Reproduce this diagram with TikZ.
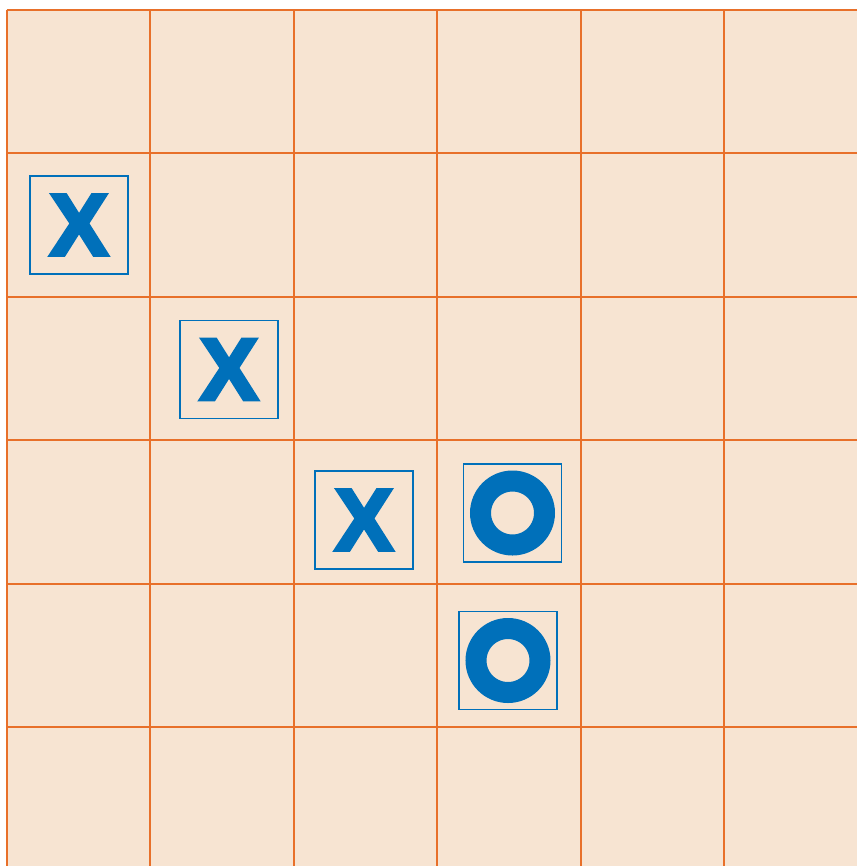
\documentclass[tikz,border=0pt]{standalone}
\usepackage{fontspec}
\newfontfamily\fichaFont[FakeBold=4]{Liberation Sans Bold}
\usetikzlibrary{positioning}
\definecolor{fondoTablero}{HTML}{F7E4D2}
\definecolor{lineaTablero}{HTML}{E8702A}
\definecolor{azulFicha}{HTML}{0070BA}

\begin{document}
\begin{tikzpicture}[x=0.02cm, y=-0.02cm,
        casilla/.style={draw=lineaTablero, line width=1pt},
        ficha/.style={draw=azulFicha, line width=0.6pt, minimum size=1.96cm, inner sep=0pt,
            text=azulFicha, font=\fichaFont\fontsize{50}{50}\selectfont},
        anillo/.style={draw=azulFicha, line width=0.42cm}]
        \useasboundingbox (0,0) rectangle (857,866);
        \fill[fondoTablero] (6.7,9.7) rectangle (857,866);
        \foreach \i in {0,...,5} {
            \draw[casilla] ({6.7+143.5*\i},9.7) -- ({6.7+143.5*\i},866);
            \draw[casilla] (6.7,{9.7+143.5*\i}) -- (857,{9.7+143.5*\i});
        }
        \node[ficha] (x1) at (79,225)    {X};
        \node[ficha] (x2) at (229,369.5) {X};
        \node[ficha] (x3) at (364,520)   {X};
        \node[ficha] (o1) at (512.5,513) {};
        \node[ficha] (o2) at (508,660.5) {};
        \foreach \n in {o1,o2} \draw[anillo] (\n.center) circle[radius=0.64cm];
    \end{tikzpicture}
\end{document}
